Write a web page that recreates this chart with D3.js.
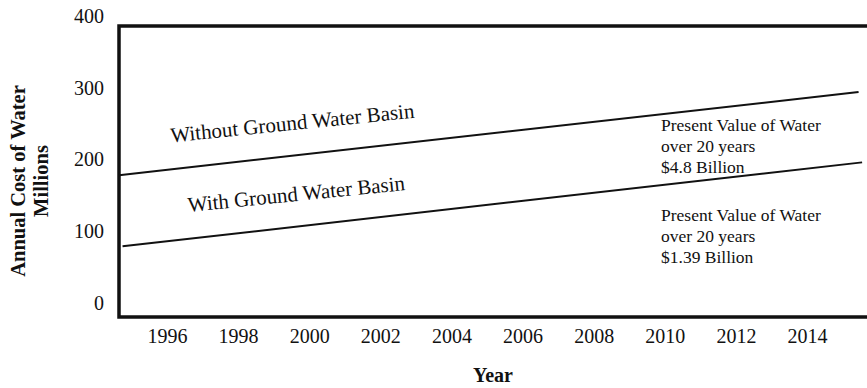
<!DOCTYPE html>
<html>
<head>
<meta charset="utf-8">
<script src="https://cdn.jsdelivr.net/npm/d3@7"></script>
<style>
  body { margin: 0; background: #fff; }
  text { font-family: "Liberation Serif", "Times New Roman", serif; fill: #111; }
</style>
</head>
<body>
<script>
var WIDTH = 867;
var HEIGHT = 388;

// tick labels
var yearTicks = [1996, 1998, 2000, 2002, 2004, 2006, 2008, 2010, 2012, 2014];
var costTicks = [0, 100, 200, 300, 400];

// series
var withoutYears = [1994.65, 2015.45];
var withoutCost = [178, 294];
var withYears = [1994.75, 2015.55];
var withCost = [79, 196];

var seriesLabels = ["Without Ground Water Basin", "With Ground Water Basin"];
var noteWithout = ["Present Value of Water", "over 20 years", "$4.8 Billion"];
var noteWith = ["Present Value of Water", "over 20 years", "$1.39 Billion"];

var FRAME_LEFT = 119, FRAME_TOP = 26, FRAME_BOTTOM = 317;

var translate = function (x, y) {
  return "translate(" + x + "," + y + ")";
};

var xScale = d3.scaleLinear()
    .domain([1996, 2014])
    .range([167, 807]);

var yScale = d3.scaleLinear()
    .domain([0, 400])
    .range([303, 16]);

var line = d3.line()
    .x(function (d) { return xScale(d[0]); })
    .y(function (d) { return yScale(d[1]); });

var draw = function () {
  var svg = d3.select("body").append("svg")
      .attr("width", WIDTH)
      .attr("height", HEIGHT);

  // frame: left, top and bottom rules
  svg.append("path")
      .attr("d", "M" + WIDTH + "," + FRAME_TOP + "H" + FRAME_LEFT + "V" + FRAME_BOTTOM + "H" + WIDTH)
      .attr("stroke", "#111")
      .attr("stroke-width", 3.5)
      .attr("fill", "none");

  // axes (labels only)
  var xAxis = d3.axisBottom(xScale)
      .tickValues(yearTicks)
      .tickFormat(d3.format("d"))
      .tickSize(0)
      .tickPadding(0);
  var gx = svg.append("g")
      .attr("transform", translate(0, 329))
      .call(xAxis);
  gx.select(".domain").remove();
  gx.selectAll("text")
      .style("font-size", "20px")
      .attr("fill", "#111");

  var yAxis = d3.axisLeft(yScale)
      .tickValues(costTicks)
      .tickSize(0)
      .tickPadding(0);
  var gy = svg.append("g")
      .attr("transform", translate(104, 0))
      .call(yAxis);
  gy.select(".domain").remove();
  gy.selectAll("text")
      .style("font-size", "20px")
      .attr("fill", "#111");

  // series lines
  var series = [
    d3.zip(withoutYears, withoutCost),
    d3.zip(withYears, withCost)
  ];
  svg.append("g").selectAll("path")
      .data(series)
      .enter()
      .append("path")
      .attr("d", line)
      .attr("fill", "none")
      .attr("stroke", "#111")
      .attr("stroke-width", 2);

  // series labels, tilted along the lines
  var labelPos = [[293, 130], [297, 201]];
  svg.append("g").selectAll("text")
      .data(seriesLabels)
      .enter()
      .append("text")
      .attr("transform", function (d, i) {
        return translate(labelPos[i][0], labelPos[i][1]) + " rotate(-5.8)";
      })
      .attr("text-anchor", "middle")
      .style("font-size", "21px")
      .text(function (d) { return d; });

  // present value notes
  var notes = [[noteWithout, 131], [noteWith, 221]];
  notes.forEach(function (n) {
    svg.append("g").selectAll("text")
        .data(n[0])
        .enter()
        .append("text")
        .attr("x", 661)
        .attr("y", function (d, i) { return n[1] + i * 21; })
        .style("font-size", "17.5px")
        .text(function (d) { return d; });
  });

  // axis titles
  var yTitle = svg.append("text")
      .attr("transform", translate(0, 181) + " rotate(-90)")
      .attr("text-anchor", "middle")
      .attr("font-weight", "bold")
      .style("font-size", "20.5px");
  yTitle.append("tspan").attr("x", 0).attr("y", 25).text("Annual Cost of Water");
  yTitle.append("tspan").attr("x", 0).attr("y", 48).text("Millions");

  svg.append("text")
      .attr("x", 493)
      .attr("y", 382)
      .attr("text-anchor", "middle")
      .attr("font-weight", "bold")
      .style("font-size", "20px")
      .text("Year");
};

window.onload = draw;
</script>
</body>
</html>
